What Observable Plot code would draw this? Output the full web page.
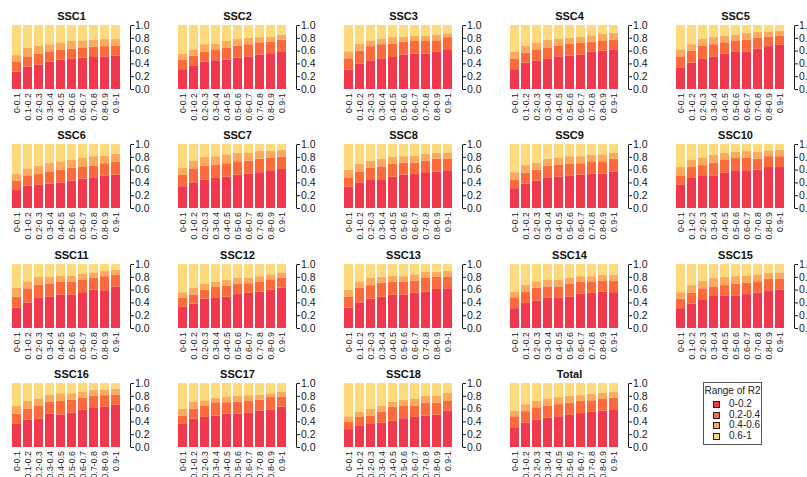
<!DOCTYPE html>
<html>
<head>
<meta charset="utf-8">
<script src="https://cdn.jsdelivr.net/npm/d3@7"></script>
<script src="https://cdn.jsdelivr.net/npm/@observablehq/plot@0.6"></script>
<style>
  body { margin: 0; background: #fff; overflow: hidden; }
  #chart { position: relative; width: 807px; height: 477px; overflow: hidden;
           font-family: "Liberation Sans", Arial, sans-serif; color: #1a1a1a; }
  .panel { position: absolute; width: 166px; height: 119px; }
  .panel svg { max-width: none !important; }
  .legend { position: absolute; left: 703px; top: 382px; width: 57px; height: 61px;
            border: 1px solid #555; background: #fff; font-size: 10px; color: #222; }
  .legend .lt { position: absolute; left: 0; width: 57px; top: 2px; text-align: center; line-height: 12px; }
  .legend .it { position: absolute; left: 9px; height: 11px; line-height: 11px; }
  .legend .sw { position: absolute; left: 0; top: 3px; width: 5px; height: 5px; border: 1px solid #222; }
  .legend .lb { position: absolute; left: 16px; top: 0; white-space: nowrap; }
</style>
</head>
<body>
<div id="chart"></div>
<script>
// R2 bins along each panel's x axis
const bins = ["0-0.1", "0.1-0.2", "0.2-0.3", "0.3-0.4", "0.4-0.5",
              "0.5-0.6", "0.6-0.7", "0.7-0.8", "0.8-0.9", "0.9-1"];
// panel names, in reading order
const panels = ["SSC1", "SSC2", "SSC3", "SSC4", "SSC5", "SSC6", "SSC7", "SSC8", "SSC9", "SSC10",
                "SSC11", "SSC12", "SSC13", "SSC14", "SSC15", "SSC16", "SSC17", "SSC18", "Total"];
// stacked categories (bottom to top) and their fills
const ranges = ["0-0.2", "0.2-0.4", "0.4-0.6", "0.6-1"];
const colors = ["#F2384E", "#FF6A3C", "#FFA95B", "#FFDA7C"];
const yTicks = [0, 0.2, 0.4, 0.6, 0.8, 1.0];

// cumulative proportion of R2 values below 0.2, one row per panel, one value per bin
const below02 = [
  [0.27,0.35,0.38,0.43,0.46,0.47,0.49,0.50,0.51,0.52],
  [0.31,0.37,0.43,0.45,0.46,0.49,0.51,0.54,0.56,0.59],
  [0.30,0.40,0.44,0.47,0.50,0.54,0.55,0.55,0.58,0.61],
  [0.31,0.41,0.44,0.47,0.51,0.52,0.54,0.58,0.60,0.62],
  [0.34,0.41,0.47,0.51,0.55,0.58,0.58,0.63,0.67,0.69],
  [0.28,0.35,0.37,0.38,0.40,0.43,0.46,0.48,0.51,0.52],
  [0.34,0.40,0.44,0.47,0.49,0.52,0.54,0.56,0.59,0.61],
  [0.33,0.40,0.45,0.45,0.49,0.52,0.53,0.56,0.57,0.59],
  [0.31,0.38,0.43,0.48,0.49,0.51,0.52,0.54,0.54,0.57],
  [0.37,0.48,0.50,0.51,0.55,0.59,0.59,0.60,0.64,0.64],
  [0.32,0.40,0.47,0.49,0.52,0.52,0.56,0.60,0.59,0.65],
  [0.33,0.38,0.46,0.48,0.49,0.53,0.55,0.57,0.60,0.63],
  [0.32,0.40,0.46,0.49,0.52,0.52,0.55,0.57,0.61,0.62],
  [0.31,0.39,0.43,0.47,0.47,0.49,0.54,0.55,0.57,0.56],
  [0.31,0.38,0.45,0.50,0.51,0.51,0.53,0.55,0.59,0.60],
  [0.36,0.43,0.44,0.52,0.51,0.54,0.58,0.61,0.63,0.66],
  [0.37,0.44,0.47,0.49,0.52,0.52,0.54,0.57,0.58,0.63],
  [0.28,0.33,0.36,0.38,0.41,0.45,0.47,0.49,0.51,0.57],
  [0.31,0.38,0.43,0.46,0.48,0.51,0.53,0.55,0.57,0.59]
];
// cumulative proportion below 0.4
const below04 = [
  [0.43,0.51,0.55,0.59,0.61,0.63,0.65,0.66,0.67,0.68],
  [0.46,0.52,0.58,0.62,0.65,0.68,0.70,0.73,0.74,0.77],
  [0.48,0.60,0.67,0.70,0.71,0.74,0.75,0.75,0.76,0.81],
  [0.47,0.57,0.62,0.65,0.68,0.71,0.72,0.74,0.75,0.77],
  [0.51,0.60,0.68,0.70,0.73,0.76,0.77,0.80,0.82,0.83],
  [0.43,0.51,0.53,0.57,0.60,0.63,0.65,0.66,0.70,0.72],
  [0.52,0.62,0.66,0.68,0.70,0.73,0.74,0.77,0.79,0.80],
  [0.48,0.57,0.63,0.65,0.69,0.71,0.71,0.74,0.77,0.77],
  [0.44,0.55,0.60,0.66,0.68,0.69,0.70,0.73,0.73,0.77],
  [0.51,0.64,0.67,0.71,0.76,0.78,0.79,0.77,0.81,0.81],
  [0.49,0.62,0.68,0.69,0.72,0.72,0.76,0.79,0.81,0.83],
  [0.47,0.52,0.60,0.64,0.66,0.69,0.70,0.72,0.75,0.79],
  [0.49,0.63,0.67,0.71,0.72,0.72,0.74,0.79,0.80,0.80],
  [0.48,0.57,0.63,0.65,0.65,0.69,0.72,0.73,0.74,0.74],
  [0.46,0.55,0.62,0.65,0.67,0.69,0.71,0.73,0.77,0.77],
  [0.52,0.60,0.64,0.71,0.72,0.74,0.77,0.80,0.81,0.82],
  [0.49,0.60,0.64,0.70,0.70,0.71,0.72,0.74,0.78,0.79],
  [0.40,0.47,0.49,0.55,0.63,0.64,0.64,0.69,0.69,0.72],
  [0.48,0.56,0.62,0.65,0.67,0.69,0.72,0.73,0.75,0.77]
];
// cumulative proportion below 0.6
const below06 = [
  [0.53,0.64,0.68,0.70,0.73,0.75,0.76,0.77,0.78,0.78],
  [0.55,0.62,0.70,0.71,0.75,0.78,0.80,0.81,0.82,0.85],
  [0.59,0.71,0.76,0.79,0.81,0.82,0.83,0.83,0.85,0.87],
  [0.58,0.68,0.73,0.77,0.79,0.80,0.82,0.84,0.86,0.88],
  [0.62,0.70,0.78,0.81,0.83,0.85,0.88,0.89,0.90,0.91],
  [0.53,0.62,0.66,0.71,0.73,0.76,0.79,0.81,0.82,0.85],
  [0.63,0.74,0.80,0.81,0.84,0.86,0.86,0.89,0.89,0.91],
  [0.60,0.69,0.74,0.77,0.80,0.81,0.82,0.85,0.86,0.87],
  [0.56,0.67,0.71,0.77,0.79,0.81,0.81,0.83,0.84,0.86],
  [0.64,0.76,0.79,0.83,0.86,0.88,0.89,0.88,0.90,0.91],
  [0.63,0.73,0.80,0.80,0.82,0.82,0.85,0.87,0.89,0.91],
  [0.56,0.63,0.69,0.72,0.75,0.79,0.79,0.81,0.84,0.87],
  [0.60,0.73,0.79,0.80,0.82,0.81,0.84,0.88,0.88,0.89],
  [0.57,0.68,0.73,0.76,0.76,0.79,0.81,0.81,0.83,0.83],
  [0.56,0.67,0.74,0.78,0.80,0.81,0.82,0.84,0.86,0.87],
  [0.64,0.72,0.76,0.82,0.84,0.84,0.87,0.89,0.90,0.91],
  [0.60,0.71,0.73,0.77,0.79,0.80,0.81,0.82,0.84,0.86],
  [0.48,0.55,0.60,0.64,0.71,0.74,0.76,0.80,0.80,0.85],
  [0.57,0.67,0.72,0.76,0.78,0.80,0.81,0.83,0.85,0.86]
];

// panel geometry
const cols = 5, colStep = 166, rowStep = 119.4;
const panelW = 166, panelH = 119;
const mLeft = 12, mRight = 36, mTop = 25, mBottom = 30;
const frameW = panelW - mLeft - mRight;
const frameH = panelH - mTop - mBottom;
// the frame's outline is dashed so that only its right side shows, as the y axis line
const axisDash = `0,${frameW},${frameH},${2 * frameW + frameH + 10}`;

const chart = document.getElementById("chart");

panels.forEach((name, p) => {
  const rows = [];
  bins.forEach((bin, i) => {
    const cum = [0, below02[p][i], below04[p][i], below06[p][i], 1];
    ranges.forEach((r, k) => rows.push({bin, range: r, share: cum[k + 1] - cum[k]}));
  });

  const svg = Plot.plot({
    width: panelW,
    height: panelH,
    marginLeft: mLeft,
    marginRight: mRight,
    marginTop: mTop,
    marginBottom: mBottom,
    style: {background: "transparent", overflow: "visible", maxWidth: "none",
            fontFamily: "Liberation Sans, Arial, sans-serif", color: "#1a1a1a"},
    x: {domain: bins, paddingInner: 0.15, paddingOuter: 0.065, align: 0, axis: null},
    y: {domain: [0, 1], axis: null},
    color: {domain: ranges, range: colors},
    marks: [
      Plot.barY(rows, {x: "bin", y: "share", fill: "range"}),
      Plot.axisX({tickRotate: -90, tickSize: 0, tickPadding: 3.5, fontSize: 8.8, label: null}),
      Plot.axisY({anchor: "right", ticks: yTicks, tickFormat: d3.format(".1f"),
                  tickSize: 3, tickPadding: 1.5, fontSize: 10.5, label: null}),
      Plot.frame({stroke: "#1a1a1a", strokeDasharray: axisDash}),
      Plot.text([name], {frameAnchor: "top", lineAnchor: "bottom", dy: -6,
                         text: d => d, fontWeight: "bold", fontSize: 11, fill: "#111"})
    ]
  });
  const wrap = document.createElement("div");
  wrap.className = "panel";
  wrap.style.left = (p % cols) * colStep + "px";
  wrap.style.top = Math.floor(p / cols) * rowStep + "px";
  wrap.appendChild(svg);
  chart.appendChild(wrap);
});

// legend box
const legend = document.createElement("div");
legend.className = "legend";
legend.innerHTML = `<div class="lt">Range of R2</div>` +
  ranges.map((r, k) =>
    `<div class="it" style="top:${15 + k * 10.7}px"><span class="sw" style="background:${colors[k]}"></span><span class="lb">${r}</span></div>`
  ).join("");
chart.appendChild(legend);
</script>
</body>
</html>
